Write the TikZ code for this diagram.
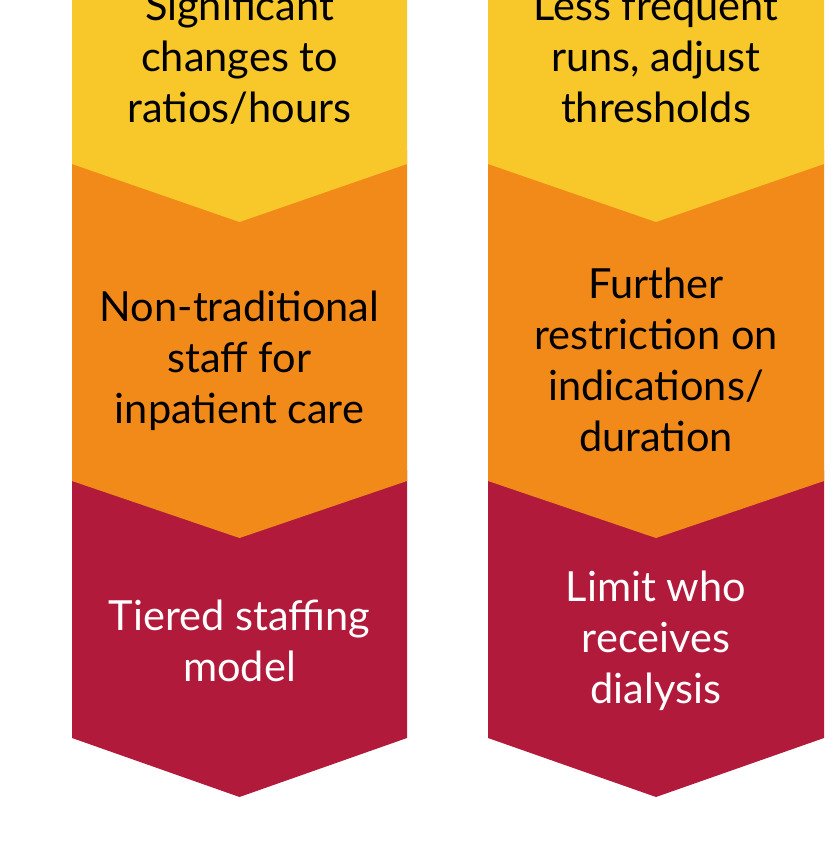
\documentclass[tikz,border=0pt]{standalone}
\usepackage{fontspec}
\setmainfont{Lato}
\definecolor{cyellow}{HTML}{F8C82A}
\definecolor{corange}{HTML}{F28A1A}
\definecolor{cred}{HTML}{B11A3A}
\begin{document}
\begin{tikzpicture}[x=1pt,y=-1pt,
  lbl/.style={align=center,inner sep=0pt,font=\fontsize{41.5}{51}\selectfont},
  dk/.style={lbl,text=black},
  lt/.style={lbl,text=white}]
\useasboundingbox (0,0) rectangle (836,850);
\foreach \xa/\xb/\xc in {72/407/239.5, 488/824/656}{
  \fill[cred] (\xa,470) -- (\xb,470) -- (\xb,738) -- (\xc,797) -- (\xa,738) -- cycle;
  \fill[corange] (\xa,150) -- (\xb,150) -- (\xb,481) -- (\xc,538) -- (\xa,481) -- cycle;
  \fill[cyellow] (\xa,-5) -- (\xb,-5) -- (\xb,164) -- (\xc,222) -- (\xa,164) -- cycle;
}
\node[dk] (ly) at (239.5,57) {Significant\\changes to\\ratios/hours};
\node[dk] (lo) at (239.5,361) {Non-traditional\\staff for\\inpatient care};
\node[lt] (lr) at (239.5,641) {Tiered staffing\\model};
\node[dk] (ry) at (656,57) {Less frequent\\runs, adjust\\thresholds};
\node[dk] (ro) at (656,360) {Further\\restriction on\\indications/\\duration};
\node[lt] (rr) at (656,641) {Limit who\\receives\\dialysis};
\end{tikzpicture}
\end{document}
